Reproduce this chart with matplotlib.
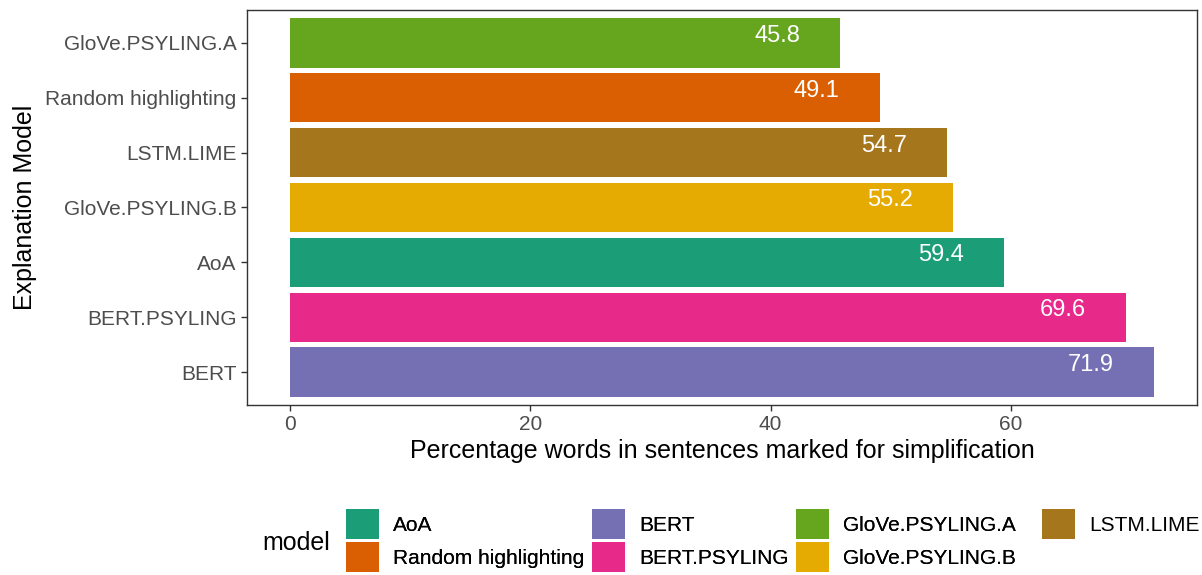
import matplotlib.pyplot as plt
from matplotlib.patches import Patch

plt.rcParams['font.family'] = ['Liberation Sans', 'DejaVu Sans']

# bars, bottom to top
models = ["BERT", "BERT.PSYLING", "AoA", "GloVe.PSYLING.B", "LSTM.LIME",
          "Random highlighting", "GloVe.PSYLING.A"]
values = [71.9, 69.6, 59.4, 55.2, 54.7, 49.1, 45.8]

# legend order (alphabetical, as ggplot does)
legend_models = ["AoA", "Random highlighting", "BERT", "BERT.PSYLING",
                 "GloVe.PSYLING.A", "GloVe.PSYLING.B", "LSTM.LIME"]
palette = {"AoA": "#1B9E77", "Random highlighting": "#D95F02", "BERT": "#7570B3",
           "BERT.PSYLING": "#E7298A", "GloVe.PSYLING.A": "#66A61E",
           "GloVe.PSYLING.B": "#E6AB02", "LSTM.LIME": "#A6761D"}

fig = plt.figure(figsize=(12.02, 5.75), dpi=100)
ax = fig.add_axes([0.2055, 0.2957, 0.7903, 0.6869])

ypos = list(range(len(models)))
ax.barh(ypos, values, height=0.9, color=[palette[m] for m in models])
for y, v in zip(ypos, values):
    ax.text(v - 5.25, y + 0.13, f"{v:.1f}", color="white", fontsize=17,
            ha="center", va="center")

ax.set_xlim(-3.6, 75.5)
ax.set_ylim(-0.6, len(models) - 0.4)
ax.set_xticks([0, 20, 40, 60])
ax.set_yticks(ypos)
ax.set_yticklabels(models)
ax.tick_params(colors="#333333", labelcolor="#4D4D4D", labelsize=15, length=4, width=1)
for s in ax.spines.values():
    s.set_color("#333333")
    s.set_linewidth(1)

ax.set_xlabel("Percentage words in sentences marked for simplification", fontsize=18, labelpad=3)
ax.set_ylabel("Explanation Model", fontsize=18, labelpad=6)

# legend: first three columns, then the lone LSTM.LIME column
leg_kw = dict(loc="lower left", frameon=False, fontsize=15,
              handlelength=1.59, handleheight=1.84, labelspacing=0.12,
              handletextpad=0.67, columnspacing=0.35, borderaxespad=0)
handles = [Patch(facecolor=palette[m], edgecolor="none") for m in legend_models]
leg1 = fig.legend(handles[:6], legend_models[:6], ncol=3,
                  bbox_to_anchor=(0.281, -0.009), **leg_kw)
fig.add_artist(leg1)
fig.legend(handles[6:] + [Patch(visible=False)], legend_models[6:] + [""], ncol=1,
           bbox_to_anchor=(0.8598, -0.009), **leg_kw)
fig.text(0.218, 0.055, "model", fontsize=18, va="center", ha="left")

fig.savefig("out.png", dpi=100)
